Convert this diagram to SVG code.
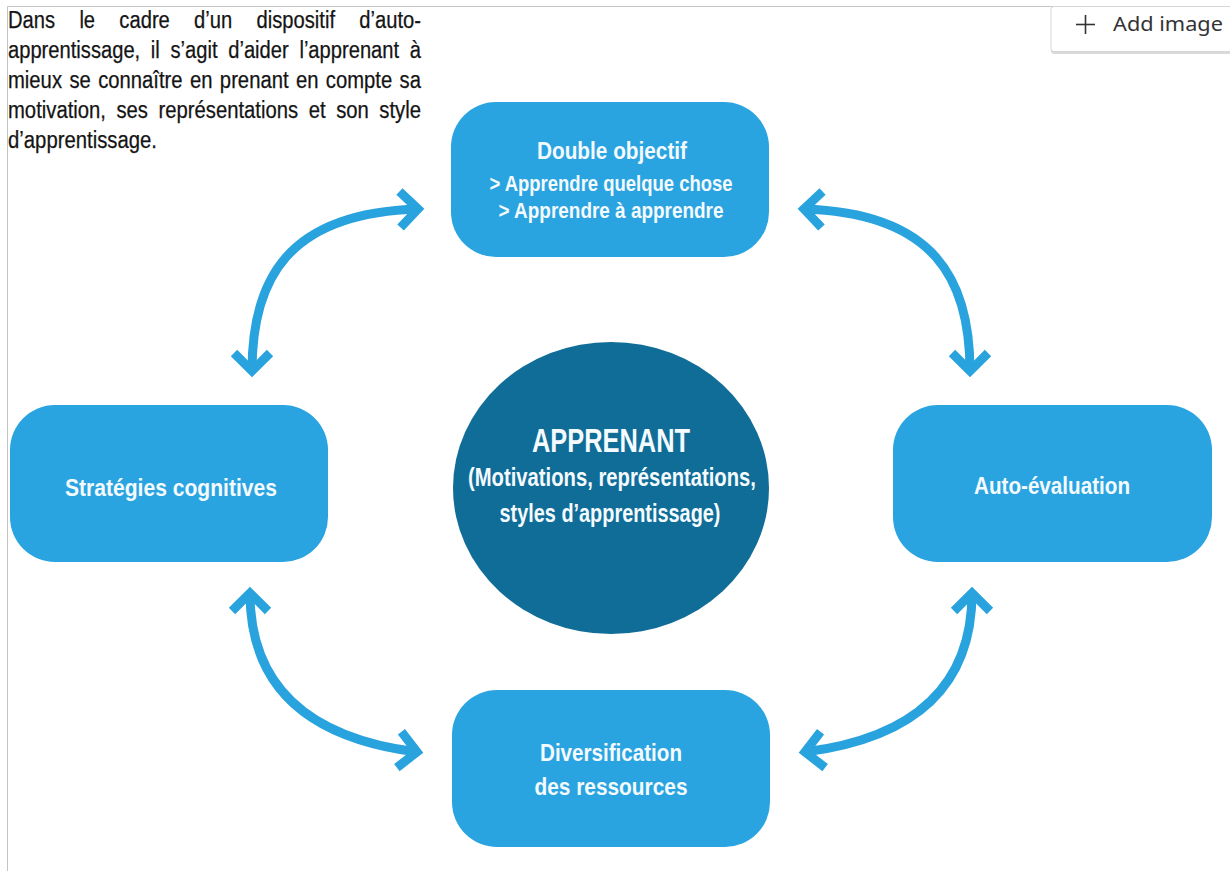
<svg xmlns="http://www.w3.org/2000/svg" width="1230" height="871" viewBox="0 0 1230 871">
  <style>
    .para { font-family: "Liberation Sans", Arial, sans-serif; font-size: 23px; fill: #141414; stroke: #141414; stroke-width: 0.25; }
    .box { fill: #29A4E0; }
    .lbl { font-family: "Liberation Sans", Arial, sans-serif; font-weight: bold; fill: #F4FAFE; text-anchor: middle; }
    .arrow { fill: none; stroke: #29A3DE; stroke-width: 9; marker-start: url(#chev); marker-end: url(#chev); }
    .btn { font-family: "Noto Sans", "Open Sans", sans-serif; font-size: 19px; fill: #333333; }
  </style>
  <defs>
    <marker id="chev" viewBox="-25 -25 35 50" markerWidth="35" markerHeight="50" refX="0" refY="0" orient="auto-start-reverse" markerUnits="userSpaceOnUse">
      <path d="M -18 -18 L 0 0 L -18 18" fill="none" stroke="#29A3DE" stroke-width="9" stroke-linejoin="miter"/>
    </marker>
  </defs>
  <rect x="0" y="0" width="1230" height="871" fill="#FFFFFF"/>
  <g id="page-border" stroke="#C4C4C4" stroke-width="1">
    <line x1="7.5" y1="6.5" x2="1230" y2="6.5"/>
    <line x1="7.5" y1="6.5" x2="7.5" y2="871"/>
  </g>
  <g id="add-image-button">
    <rect x="1051" y="8" width="190" height="46" rx="3" fill="#D9D9D9"/>
    <rect x="1051" y="6.5" width="190" height="45" rx="3" fill="#FFFFFF" stroke="#D6D6D6" stroke-width="1"/>
    <line x1="1076" y1="24.5" x2="1095" y2="24.5" stroke="#333333" stroke-width="1.6"/>
    <line x1="1085.5" y1="15" x2="1085.5" y2="34" stroke="#333333" stroke-width="1.6"/>
    <text class="btn" x="1113" y="31" textLength="110" lengthAdjust="spacingAndGlyphs">Add image</text>
  </g>
  <g id="intro-text">
    <text class="para" x="8" y="28" word-spacing="21.3" textLength="413" lengthAdjust="spacingAndGlyphs">Dans le cadre d’un dispositif d’auto-</text>
    <text class="para" x="8" y="58" word-spacing="5.8" textLength="413" lengthAdjust="spacingAndGlyphs">apprentissage, il s’agit d’aider l’apprenant à</text>
    <text class="para" x="8" y="88" word-spacing="2" textLength="413" lengthAdjust="spacingAndGlyphs">mieux se connaître en prenant en compte sa</text>
    <text class="para" x="8" y="118" word-spacing="5.6" textLength="413" lengthAdjust="spacingAndGlyphs">motivation, ses représentations et son style</text>
    <text class="para" x="8" y="148" textLength="149" lengthAdjust="spacingAndGlyphs">d’apprentissage.</text>
  </g>
  <g id="connectors">
    <path class="arrow" d="M 252 371 C 252 280, 287 213, 418 209"/>
    <path class="arrow" d="M 970 371 C 970 280, 935 213, 804 209"/>
    <path class="arrow" d="M 250 593 C 250 680, 300 737, 417 752"/>
    <path class="arrow" d="M 972 593 C 972 680, 922 737, 805 752"/>
  </g>
  <g id="node-double-objectif">
    <rect class="box" x="451" y="102" width="318" height="155" rx="45"/>
    <text class="lbl" x="612" y="159" font-size="24" textLength="150" lengthAdjust="spacingAndGlyphs">Double objectif</text>
    <text class="lbl" x="611" y="191" font-size="22" textLength="243" lengthAdjust="spacingAndGlyphs">&gt; Apprendre quelque chose</text>
    <text class="lbl" x="611" y="218" font-size="22" textLength="225" lengthAdjust="spacingAndGlyphs">&gt; Apprendre à apprendre</text>
  </g>
  <g id="node-strategies">
    <rect class="box" x="10" y="405" width="318" height="157" rx="45"/>
    <text class="lbl" x="171" y="496" font-size="24" textLength="212" lengthAdjust="spacingAndGlyphs">Stratégies cognitives</text>
  </g>
  <g id="node-apprenant">
    <ellipse cx="611" cy="488" rx="158" ry="146" fill="#0F6D97"/>
    <text class="lbl" x="611" y="452" font-size="34" textLength="158" lengthAdjust="spacingAndGlyphs">APPRENANT</text>
    <text class="lbl" x="612" y="486" font-size="25" textLength="288" lengthAdjust="spacingAndGlyphs">(Motivations, représentations,</text>
    <text class="lbl" x="610" y="522" font-size="25" textLength="221" lengthAdjust="spacingAndGlyphs">styles d’apprentissage)</text>
  </g>
  <g id="node-auto-evaluation">
    <rect class="box" x="893" y="405" width="319" height="157" rx="45"/>
    <text class="lbl" x="1052" y="494" font-size="24" textLength="156" lengthAdjust="spacingAndGlyphs">Auto-évaluation</text>
  </g>
  <g id="node-diversification">
    <rect class="box" x="452" y="690" width="318" height="157" rx="45"/>
    <text class="lbl" x="611" y="761" font-size="24" textLength="142" lengthAdjust="spacingAndGlyphs">Diversification</text>
    <text class="lbl" x="611" y="795" font-size="24" textLength="153" lengthAdjust="spacingAndGlyphs">des ressources</text>
  </g>
</svg>
